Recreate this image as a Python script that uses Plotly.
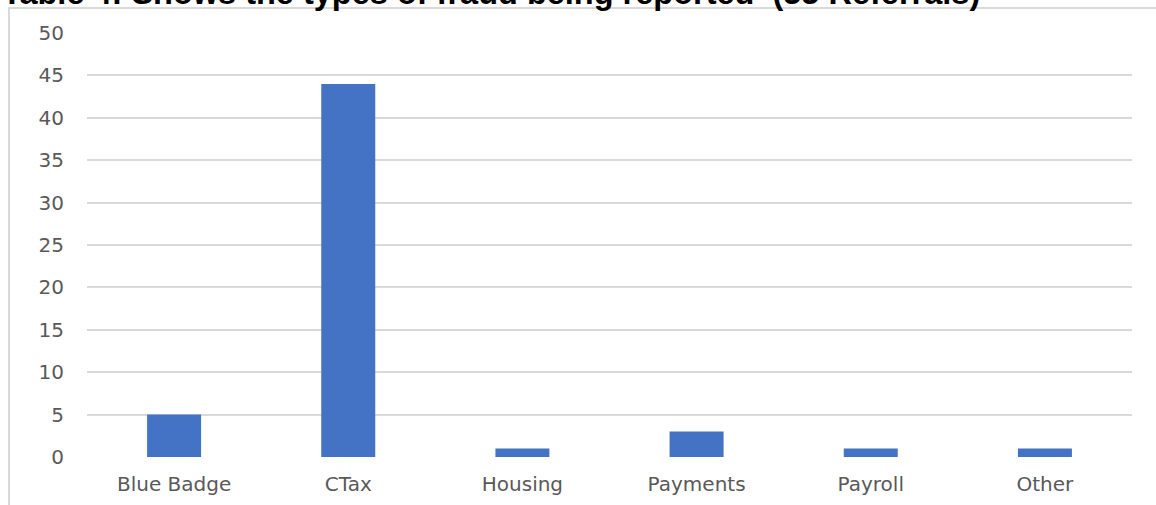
import plotly.graph_objects as go

categories = ["Blue Badge", "CTax", "Housing", "Payments", "Payroll", "Other"]
referrals = [5, 44, 1, 3, 1, 1]
y_ticks = [0, 5, 10, 15, 20, 25, 30, 35, 40, 45, 50]
title_text = "Table 4: Shows the types of fraud being reported  (55 Referrals)"

W, H = 1156, 505
ml, mr, mt, mb = 87, 24, 33, 48
pw, ph = W - ml - mr, H - mt - mb

def px_x(p):
    return (p - ml) / pw

def px_y(p):
    return (H - mb - p) / ph

fig = go.Figure(go.Bar(x=categories, y=referrals, marker=dict(color="#4472C4", line=dict(width=0)),
                       width=0.31))

fig.update_layout(
    width=W, height=H,
    margin=dict(l=ml, r=mr, t=mt, b=mb, autoexpand=False),
    paper_bgcolor="white", plot_bgcolor="white",
    showlegend=False,
    font=dict(family="DejaVu Sans", color="#595959", size=18),
    xaxis=dict(showgrid=False, zeroline=False, showline=False, ticks="", automargin=False,
               tickfont=dict(size=20, color="#595959"), ticklabelstandoff=13),
    yaxis=dict(range=[0, 50], tickvals=y_ticks, showgrid=True, gridcolor="#d9d9d9", gridwidth=1.5,
               zeroline=False, showline=False, ticks="", automargin=False,
               tickfont=dict(size=20, color="#595959"), ticklabelstandoff=22),
    shapes=[dict(type="rect", xref="paper", yref="paper",
                 x0=px_x(9), x1=px_x(1170), y0=px_y(520), y1=px_y(8),
                 line=dict(color="#d9d9d9", width=2), fillcolor="rgba(0,0,0,0)", layer="below")],
    annotations=[dict(text="<b>" + title_text + "</b>", xref="paper", yref="paper",
                      x=px_x(0), y=px_y(13), xanchor="left", yanchor="bottom", showarrow=False,
                      font=dict(family="Liberation Sans", size=32.5, color="black"))],
)

fig.write_html("out.html")
